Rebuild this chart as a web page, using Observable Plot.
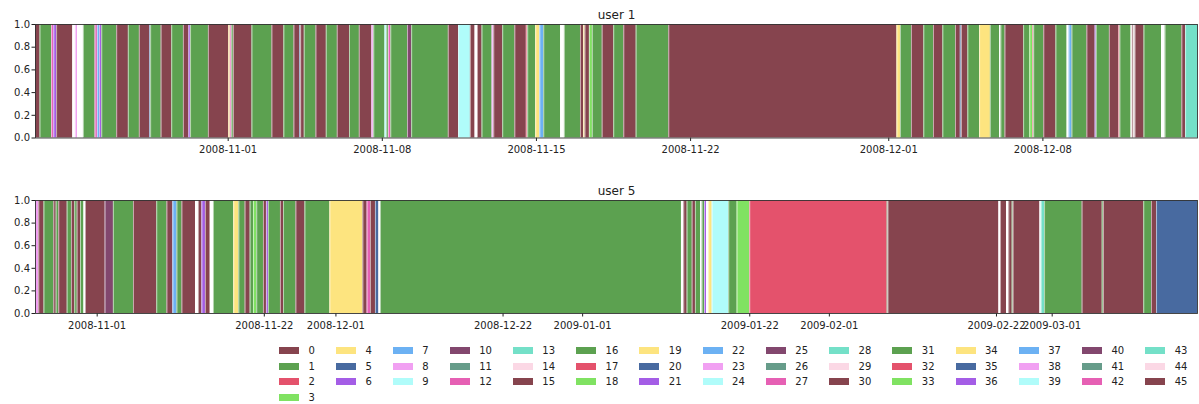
<!DOCTYPE html>
<html><head><meta charset="utf-8">
<script src="https://cdn.jsdelivr.net/npm/d3@7"></script>
<script src="https://cdn.jsdelivr.net/npm/@observablehq/plot@0.6"></script>
<style>
body{margin:0;background:#fff;font-family:"DejaVu Sans",sans-serif;}
#chart{position:relative;width:1199px;height:404px;}
#chart svg{display:block;}
#legend{position:absolute;left:279px;top:343px;display:flex;gap:21px;font-size:10px;color:#222;}
#legend .col{display:flex;flex-direction:column;}
#legend .item{height:15.5px;display:flex;align-items:center;}
#legend .sw{width:20px;height:7px;margin-right:9.5px;}
</style></head><body><div id="chart"></div><script>
// palette of 15 colours, cycled over the 46 states
const palette = ["#86444e","#5ca150","#e4526c","#80e262","#fde47f","#486aa0","#a45de6","#6cb1f3","#f1a0f2","#b0fcfa","#82476e","#669c8a","#e660b4","#74e0c8","#fbd8e5"];
const legendLabels = d3.range(46);

// user 1: segment start times, states (null = no data), end time
const u1Start = ["2008-10-23 06:00","2008-10-23 11:00","2008-10-23 23:30","2008-10-24 02:00","2008-10-24 05:00","2008-10-24 22:30","2008-10-25 01:30","2008-10-25 03:45","2008-10-25 10:15","2008-10-25 23:00","2008-10-26 01:30","2008-10-26 03:45","2008-10-26 06:15","2008-10-26 22:30","2008-10-27 11:15","2008-10-27 23:15","2008-10-28 10:15","2008-10-28 11:30","2008-10-28 23:00","2008-10-29 10:30","2008-10-29 23:15","2008-10-30 05:15","2008-10-30 07:00","2008-10-31 02:30","2008-11-01 00:45","2008-11-01 02:15","2008-11-01 04:00","2008-11-01 05:45","2008-11-02 02:00","2008-11-02 23:45","2008-11-03 12:45","2008-11-03 23:45","2008-11-04 06:00","2008-11-04 07:00","2008-11-04 11:00","2008-11-04 23:45","2008-11-05 11:00","2008-11-05 23:00","2008-11-06 12:15","2008-11-06 23:00","2008-11-07 12:45","2008-11-07 14:45","2008-11-08 03:00","2008-11-08 05:00","2008-11-08 06:45","2008-11-08 09:15","2008-11-09 03:30","2008-11-09 08:00","2008-11-11 00:00","2008-11-11 11:15","2008-11-12 00:00","2008-11-12 05:00","2008-11-12 07:45","2008-11-12 12:45","2008-11-12 23:45","2008-11-13 01:30","2008-11-13 11:15","2008-11-14 00:30","2008-11-14 13:00","2008-11-14 14:30","2008-11-14 23:15","2008-11-15 03:45","2008-11-15 08:00","2008-11-16 02:15","2008-11-16 06:30","2008-11-17 00:00","2008-11-17 03:30","2008-11-17 05:00","2008-11-17 09:45","2008-11-17 13:00","2008-11-17 23:45","2008-11-18 12:15","2008-11-18 23:15","2008-11-19 12:45","2008-11-21 00:15","2008-12-01 09:00","2008-12-01 12:45","2008-12-02 00:45","2008-12-02 14:15","2008-12-03 00:45","2008-12-03 11:00","2008-12-04 00:45","2008-12-04 06:00","2008-12-04 07:15","2008-12-04 14:15","2008-12-05 03:00","2008-12-05 14:45","2008-12-06 00:45","2008-12-06 02:15","2008-12-06 06:45","2008-12-07 03:00","2008-12-07 09:45","2008-12-07 13:00","2008-12-07 14:00","2008-12-08 01:00","2008-12-08 14:15","2008-12-09 02:15","2008-12-09 04:30","2008-12-09 07:45","2008-12-10 00:00","2008-12-10 09:00","2008-12-10 10:15","2008-12-11 00:30","2008-12-11 10:45","2008-12-11 12:00","2008-12-12 00:00","2008-12-12 01:30","2008-12-12 03:00","2008-12-12 04:30","2008-12-12 14:15","2008-12-13 09:15","2008-12-13 13:15","2008-12-14 07:30","2008-12-14 11:30"];
const u1State = [0,1,12,6,0,null,8,null,1,12,7,6,1,0,1,0,5,1,0,1,0,6,1,0,4,12,1,0,1,0,1,0,5,0,1,0,1,0,1,0,8,1,9,1,12,1,10,1,0,9,0,null,0,1,8,0,1,0,2,1,4,7,1,null,1,0,4,0,3,1,0,1,0,1,0,4,1,0,1,0,1,0,5,0,1,4,1,null,1,0,1,3,2,1,0,1,null,7,1,0,6,1,0,2,1,null,0,null,0,1,null,1,0,13];
const u1End = "2008-12-15 00:30";
const u1Ticks = ["2008-11-01","2008-11-08","2008-11-15","2008-11-22","2008-12-01","2008-12-08"];

// user 5
const u5Start = ["2008-10-24 06:00","2008-10-24 16:00","2008-10-25 07:45","2008-10-26 13:15","2008-10-26 20:30","2008-10-27 04:15","2008-10-28 05:45","2008-10-28 18:30","2008-10-29 04:30","2008-10-29 11:45","2008-10-29 21:45","2008-10-30 07:45","2008-10-30 12:45","2008-11-02 00:00","2008-11-03 01:00","2008-11-05 13:30","2008-11-08 11:45","2008-11-09 18:30","2008-11-10 12:30","2008-11-11 00:45","2008-11-11 15:45","2008-11-13 08:30","2008-11-13 17:30","2008-11-14 04:00","2008-11-14 14:30","2008-11-15 04:45","2008-11-15 14:45","2008-11-18 04:00","2008-11-18 19:30","2008-11-19 14:15","2008-11-20 05:30","2008-11-20 15:30","2008-11-21 01:15","2008-11-21 21:30","2008-11-22 06:30","2008-11-22 12:30","2008-11-24 00:45","2008-11-24 10:00","2008-11-25 23:30","2008-11-27 02:45","2008-11-30 06:00","2008-12-04 09:30","2008-12-04 22:15","2008-12-05 08:15","2008-12-05 23:15","2008-12-06 09:15","2008-12-06 14:30","2009-01-13 10:00","2009-01-13 17:00","2009-01-14 03:15","2009-01-14 18:30","2009-01-15 04:15","2009-01-15 19:30","2009-01-16 00:30","2009-01-16 07:30","2009-01-16 13:30","2009-01-16 20:30","2009-01-17 06:45","2009-01-19 08:45","2009-01-20 10:00","2009-01-22 00:00","2009-02-08 06:30","2009-02-08 09:00","2009-02-22 07:00","2009-02-22 12:15","2009-02-23 06:15","2009-02-23 13:15","2009-02-23 23:30","2009-02-24 02:30","2009-02-27 10:45","2009-02-27 15:00","2009-02-28 01:00","2009-03-04 18:30","2009-03-07 07:00","2009-03-07 10:45","2009-03-12 12:15","2009-03-13 11:30","2009-03-14 02:45"];
const u5State = [8,0,1,0,1,0,1,0,1,0,1,null,0,10,1,0,1,0,7,1,0,null,0,6,0,null,1,4,1,0,1,3,1,0,6,1,0,1,0,1,4,0,12,0,5,null,1,null,0,1,0,1,null,1,6,null,4,9,1,3,2,1,0,null,0,null,0,1,0,null,13,1,0,1,0,1,0,5];
const u5End = "2009-03-19 06:15";
const u5Ticks = ["2008-11-01","2008-11-22","2008-12-01","2008-12-22","2009-01-01","2009-01-22","2009-02-01","2009-02-22","2009-03-01"];

const parseT = d3.utcParse("%Y-%m-%d %H:%M");
const parseD = d3.utcParse("%Y-%m-%d");

function panel(title, starts, states, end, ticks, height, top, bottom) {
  const rows = starts.map((s, i) => ({
    start: parseT(s),
    end: parseT(i + 1 < starts.length ? starts[i + 1] : end),
    state: states[i]
  }));
  const bars = rows.filter(d => d.state !== null);
  return Plot.plot({
    width: 1199, height, marginLeft: 35, marginRight: 2, marginTop: top, marginBottom: bottom,
    style: {fontFamily: "DejaVu Sans", fontSize: "10px", color: "#222", background: "white"},
    x: {type: "utc", domain: [rows[0].start, rows[rows.length - 1].end], ticks: ticks.map(parseD),
        tickFormat: d3.utcFormat("%Y-%m-%d"), tickSize: 3.5, tickPadding: 4.5, label: null},
    y: {domain: [0, 1], ticks: [0, 0.2, 0.4, 0.6, 0.8, 1], tickFormat: ".1f", tickSize: 3.5, tickPadding: 2, label: null},
    color: {type: "ordinal", domain: legendLabels, range: legendLabels.map(i => palette[i % 15])},
    marks: [
      Plot.rect(bars, {x1: "start", x2: "end", y1: 0, y2: 1, fill: "state"}),
      Plot.ruleX(rows.slice(1), {x: "start", y1: 0, y2: 1, stroke: "white", strokeOpacity: 0.55, strokeWidth: 1}),
      Plot.frame({stroke: "#333", strokeWidth: 0.9}),
      Plot.text([title], {text: d => d, frameAnchor: "top", lineAnchor: "middle", dy: -9.5, fontSize: 12, fill: "#222"})
    ]
  });
}

const chart = document.getElementById("chart");
chart.appendChild(panel("user 1", u1Start, u1State, u1End, u1Ticks, 170, 24, 32.5));
chart.appendChild(panel("user 5", u5Start, u5State, u5End, u5Ticks, 165, 30, 22));

// legend: matplotlib-like column order (first column 4 rows, then 3 per column)
const legend = document.createElement("div");
legend.id = "legend";
const cols = [];
legendLabels.forEach(i => {
  const c = i < 4 ? 0 : Math.floor((i - 1) / 3);
  (cols[c] = cols[c] || []).push(i);
});
cols.forEach(list => {
  const col = document.createElement("div");
  col.className = "col";
  list.forEach(i => {
    const it = document.createElement("div");
    it.className = "item";
    const sw = document.createElement("span");
    sw.className = "sw";
    sw.style.background = palette[i % 15];
    const tx = document.createElement("span");
    tx.textContent = String(i);
    it.appendChild(sw); it.appendChild(tx);
    col.appendChild(it);
  });
  legend.appendChild(col);
});
chart.appendChild(legend);
</script></body></html>
